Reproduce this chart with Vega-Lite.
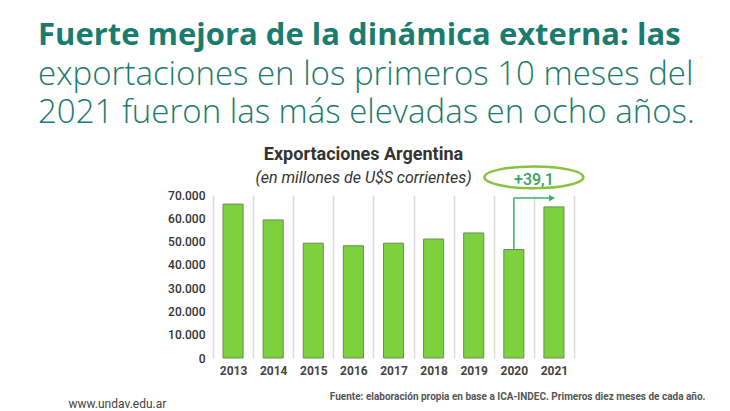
{
  "$schema": "https://vega.github.io/schema/vega-lite/v6.json",
  "padding": {"left": 38, "top": 20, "right": 0, "bottom": 0},
  "background": "white",
  "config": {
    "locale": {"number": {"decimal": ",", "thousands": ".", "grouping": [3], "currency": ["$", ""]}},
    "view": {"stroke": null},
    "font": "Roboto"
  },
  "title": {
    "text": "Fuerte mejora de la dinámica externa: las",
    "subtitle": ["exportaciones en los primeros 10 meses del", "2021 fueron las más elevadas en ocho años."],
    "anchor": "start",
    "frame": "bounds",
    "font": "Open Sans",
    "fontSize": 31,
    "fontWeight": "bold",
    "color": "#1b7b6c",
    "subtitleFont": "Open Sans",
    "subtitleFontSize": 33,
    "subtitleFontWeight": 300,
    "subtitleColor": "#1b7b6c",
    "subtitleLineHeight": 38,
    "subtitlePadding": 7,
    "offset": 15
  },
  "datasets": {
    "exports": [
      {"year": "2013", "value": 66100},
      {"year": "2014", "value": 59300},
      {"year": "2015", "value": 49300},
      {"year": "2016", "value": 48200},
      {"year": "2017", "value": 49300},
      {"year": "2018", "value": 51100},
      {"year": "2019", "value": 53700},
      {"year": "2020", "value": 46600},
      {"year": "2021", "value": 64900}
    ],
    "annot": [
      {"from": "2020", "to": "2021", "start": 46600, "end": 68700, "labelY": 76300, "label": "+39,1"}
    ]
  },
  "vconcat": [
    {
      "width": 361,
      "height": 163,
      "title": {
        "text": "Exportaciones Argentina",
        "subtitle": "(en millones de U$S corrientes)",
        "anchor": "middle",
        "frame": "group",
        "dx": -30,
        "font": "Roboto",
        "fontSize": 18,
        "fontWeight": "bold",
        "color": "#333333",
        "subtitleFont": "Roboto",
        "subtitleFontSize": 16,
        "subtitleFontStyle": "italic",
        "subtitleColor": "#333333",
        "subtitlePadding": 6,
        "offset": -25
      },
      "resolve": {"axis": {"x": "independent", "y": "independent"}},
      "layer": [
        {
          "data": {"name": "exports"},
          "mark": {"type": "bar", "width": {"band": 0.5}, "fill": "#7dd13c", "stroke": "#6a8c55", "strokeWidth": 1},
          "encoding": {
            "x": {
              "field": "year", "type": "ordinal",
              "scale": {"paddingInner": 0, "paddingOuter": 0},
              "axis": {
                "title": "Fuente: elaboración propia en base a ICA-INDEC. Primeros diez meses de cada año.",
                "titleX": 492, "titleY": 38, "titleAlign": "right", "titleBaseline": "middle",
                "titleFont": "Roboto", "titleFontSize": 10, "titleFontWeight": "bold", "titleColor": "#555555",
                "labelAngle": 0, "labelFont": "Roboto", "labelFontSize": 12, "labelFontWeight": "bold", "labelColor": "#444444", "labelPadding": 7,
                "domain": false, "ticks": false, "grid": true, "tickBand": "extent", "gridColor": "#dcdcdc", "gridWidth": 1.5
              }
            },
            "y": {
              "field": "value", "type": "quantitative",
              "scale": {"domain": [0, 70000], "nice": false},
              "axis": {
                "values": [0, 10000, 20000, 30000, 40000, 50000, 60000, 70000],
                "format": ",d",
                "labelOverlap": false,
                "title": "www.undav.edu.ar",
                "titleAngle": 0, "titleX": -145, "titleY": 208, "titleAlign": "left", "titleBaseline": "middle",
                "titleFont": "Roboto", "titleFontSize": 12, "titleFontWeight": "normal", "titleColor": "#444444",
                "labelFont": "Roboto", "labelFontSize": 12, "labelFontWeight": 500, "labelColor": "#333333", "labelPadding": 8,
                "domain": false, "ticks": false, "grid": false,
                "minExtent": 175, "maxExtent": 175
              }
            }
          }
        },
        {
          "data": {"name": "annot"},
          "mark": {"type": "rule", "color": "#35b36a", "strokeWidth": 1.5},
          "encoding": {
            "x": {"field": "from", "type": "ordinal", "axis": null},
            "y": {"field": "start", "type": "quantitative", "scale": {"domain": [0, 70000], "nice": false}, "axis": null},
            "y2": {"field": "end"}
          }
        },
        {
          "data": {"name": "annot"},
          "mark": {"type": "rule", "color": "#35b36a", "strokeWidth": 1.5},
          "encoding": {
            "x": {"field": "from", "type": "ordinal", "axis": null},
            "x2": {"field": "to"},
            "y": {"field": "end", "type": "quantitative", "scale": {"domain": [0, 70000], "nice": false}, "axis": null}
          }
        },
        {
          "data": {"name": "annot"},
          "mark": {"type": "point", "shape": "triangle-right", "filled": true, "size": 45, "color": "#35b36a", "opacity": 1, "xOffset": -2},
          "encoding": {
            "x": {"field": "to", "type": "ordinal", "axis": null},
            "y": {"field": "end", "type": "quantitative", "scale": {"domain": [0, 70000], "nice": false}, "axis": null}
          }
        },
        {
          "data": {"name": "annot"},
          "mark": {"type": "point", "shape": "M-1,0A1,0.22,0,1,1,1,0A1,0.22,0,1,1,-1,0Z", "filled": false, "size": 9801, "stroke": "#86c440", "strokeWidth": 2.5, "opacity": 1, "yOffset": -3},
          "encoding": {
            "x": {"field": "from", "type": "ordinal", "bandPosition": 1, "axis": null},
            "y": {"field": "labelY", "type": "quantitative", "scale": {"domain": [0, 70000], "nice": false}, "axis": null}
          }
        },
        {
          "data": {"name": "annot"},
          "mark": {"type": "text", "font": "Roboto", "fontSize": 16, "fontWeight": 500, "color": "#34a55a", "baseline": "middle", "align": "center"},
          "encoding": {
            "x": {"field": "from", "type": "ordinal", "bandPosition": 1, "axis": null},
            "y": {"field": "labelY", "type": "quantitative", "scale": {"domain": [0, 70000], "nice": false}, "axis": null},
            "text": {"field": "label"}
          }
        }
      ]
    }
  ]
}
